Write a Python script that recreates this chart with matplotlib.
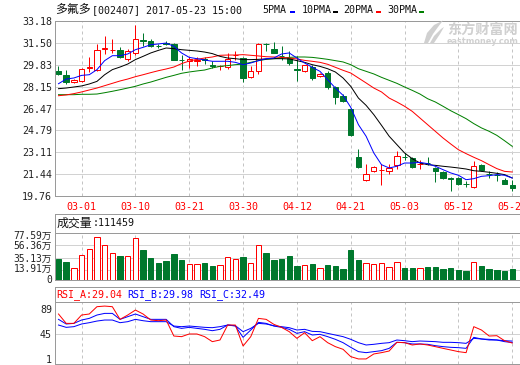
import numpy as np
import matplotlib.pyplot as plt
import matplotlib.transforms as mtransforms
from matplotlib.patches import Rectangle, Polygon

W, H = 520, 365

# 日期刻度
date_idx = [3, 10, 17, 24, 31, 38, 45, 52, 59]
date_labels = ['03-01', '03-10', '03-21', '03-30', '04-12', '04-21', '05-03', '05-12', '05-23']

# K线数据 (开, 高, 低, 收)
opens = [29.37, 29.01, 28.48, 28.55, 29.57, 29.45, 31.02, 30.93, 30.98, 30.24,
         30.70, 31.70, 31.65, 31.30, 31.48, 31.42, 30.19, 30.09, 30.14, 30.24,
         29.80, 29.70, 29.65, 30.58, 30.34, 28.86, 29.37, 31.45, 31.03, 30.50,
         30.34, 29.47, 29.37, 29.65, 28.94, 29.19, 28.12, 27.40, 26.46, 22.75,
         21.01, 21.65, 21.76, 21.70, 22.11, 22.75, 22.67, 22.22, 22.30, 21.91,
         21.60, 21.11, 21.14, 20.70, 20.43, 22.16, 21.48, 21.40, 21.01, 20.58]
highs = [29.70, 29.45, 28.71, 29.58, 30.39, 31.42, 32.00, 31.80, 31.19, 31.06,
         32.90, 32.26, 31.83, 31.42, 31.62, 31.49, 30.60, 30.39, 30.39, 30.39,
         30.09, 29.83, 30.73, 30.85, 30.39, 29.70, 31.49, 31.49, 31.57, 31.24,
         30.90, 30.47, 29.83, 29.83, 29.19, 29.32, 28.17, 27.58, 26.51, 23.36,
         22.22, 22.04, 22.24, 22.24, 23.24, 23.06, 22.73, 22.55, 22.73, 21.96,
         21.65, 21.19, 21.19, 20.94, 22.42, 22.24, 21.70, 21.60, 21.14, 21.01]
lows = [29.01, 28.37, 28.45, 28.50, 29.27, 29.32, 30.67, 30.75, 30.32, 30.14,
        30.60, 31.24, 31.16, 31.11, 31.31, 30.16, 29.45, 29.58, 29.76, 29.88,
        29.58, 29.45, 29.52, 30.22, 28.50, 28.81, 29.12, 30.85, 30.75, 30.22,
        29.83, 28.61, 29.27, 28.68, 28.91, 27.99, 26.84, 26.97, 24.36, 21.91,
        20.94, 21.60, 20.63, 21.45, 21.86, 22.55, 21.91, 21.83, 22.11, 20.81,
        21.04, 20.17, 20.58, 20.45, 20.37, 21.65, 21.14, 20.94, 20.68, 20.17]
closes = [29.14, 28.48, 28.66, 29.50, 29.65, 30.93, 31.08, 30.97, 30.39, 30.85,
          31.77, 31.67, 31.29, 31.26, 31.45, 30.22, 30.16, 30.27, 30.17, 30.22,
          29.76, 29.74, 30.29, 30.60, 28.81, 29.32, 31.42, 31.40, 30.75, 30.47,
          29.96, 29.45, 29.78, 28.81, 29.12, 28.09, 27.38, 27.07, 24.41, 21.96,
          21.47, 21.98, 21.78, 21.91, 22.83, 22.72, 22.01, 22.24, 22.27, 21.65,
          21.12, 21.09, 20.71, 20.68, 22.04, 21.73, 21.46, 21.38, 20.71, 20.35]

# 均线
ma5 = [28.37, 28.73, 28.81, 29.01, 29.06, 29.45, 30.14, 30.52, 30.52, 30.65,
       30.98, 31.16, 31.36, 31.42, 31.49, 31.24, 30.73, 30.39, 30.29, 30.19,
       30.09, 30.09, 30.09, 30.01, 29.83, 29.96, 30.14, 30.29, 30.34, 30.65,
       30.73, 30.34, 29.96, 29.63, 29.32, 28.68, 28.04, 27.48, 26.56, 25.23,
       24.34, 23.06, 22.16, 21.91, 22.04, 22.29, 22.29, 22.34, 22.24, 22.04,
       21.78, 21.53, 21.35, 21.01, 21.09, 21.27, 21.32, 21.40, 21.35, 21.14]
ma10 = [27.99, 28.04, 28.12, 28.20, 28.35, 28.55, 29.06, 29.45, 29.65, 29.88,
        30.22, 30.47, 30.73, 30.93, 31.11, 31.06, 30.98, 30.93, 30.88, 30.80,
        30.68, 30.47, 30.34, 30.29, 30.22, 30.22, 30.24, 30.27, 30.29, 30.29,
        30.27, 30.14, 30.01, 29.83, 29.70, 29.52, 29.27, 28.81, 28.17, 27.27,
        26.71, 26.00, 25.18, 24.34, 23.70, 23.06, 22.62, 22.29, 22.16, 22.11,
        22.04, 21.98, 21.91, 21.83, 21.70, 21.65, 21.58, 21.50, 21.40, 21.14]
ma20 = [27.45, 27.51, 27.61, 27.74, 27.89, 28.04, 28.22, 28.40, 28.58, 28.73,
        28.91, 29.06, 29.22, 29.37, 29.50, 29.65, 29.91, 30.11, 30.24, 30.34,
        30.42, 30.55, 30.57, 30.57, 30.60, 30.55, 30.50, 30.44, 30.42, 30.39,
        30.34, 30.27, 30.16, 30.09, 30.01, 29.86, 29.63, 29.40, 29.19, 28.81,
        28.43, 28.04, 27.74, 27.27, 26.97, 26.64, 26.25, 25.74, 25.23, 24.72,
        24.21, 23.75, 23.31, 23.01, 22.73, 22.47, 22.16, 21.86, 21.65, 21.60]
ma30 = [27.53, 27.53, 27.53, 27.56, 27.56, 27.58, 27.68, 27.79, 27.91, 28.04,
        28.17, 28.35, 28.50, 28.68, 28.86, 29.01, 29.17, 29.27, 29.35, 29.42,
        29.58, 29.70, 29.76, 29.83, 29.88, 30.01, 30.14, 30.24, 30.29, 30.34,
        30.39, 30.42, 30.42, 30.39, 30.32, 30.24, 30.14, 30.04, 29.83, 29.52,
        29.32, 29.12, 28.86, 28.63, 28.40, 28.12, 27.86, 27.58, 27.22, 26.97,
        26.64, 26.30, 26.00, 25.69, 25.31, 24.98, 24.72, 24.41, 24.00, 23.57]

# 成交量 (万)
volume = [32.5, 27.3, 16.3, 38.9, 49.4, 70.2, 56.3, 42.4, 37.8, 37.2,
          68.5, 48.2, 34.3, 25.6, 29.1, 41.2, 30.8, 23.3, 23.3, 25.6,
          20.9, 22.1, 35.4, 32.5, 36.6, 25.0, 56.3, 43.0, 30.8, 32.5,
          37.8, 20.9, 21.5, 23.8, 16.9, 22.1, 20.9, 15.1, 48.2, 30.8,
          25.0, 23.8, 25.0, 18.6, 26.7, 16.9, 16.9, 16.3, 18.6, 18.6,
          15.1, 16.9, 13.4, 11.7, 26.7, 20.4, 15.1, 13.4, 11.7, 15.1]

# RSI
rsi_a = [80.2, 63.7, 63.7, 78.4, 80.2, 93.1, 94.2, 93.1, 70.8, 78.4,
         87.2, 80.2, 69.6, 68.4, 69.6, 41.4, 40.3, 45.0, 45.0, 40.3,
         31.5, 34.4, 60.8, 60.8, 23.8, 40.3, 72.5, 70.8, 62.0, 56.7,
         49.1, 37.3, 47.3, 33.2, 40.3, 29.7, 22.7, 18.0, 5.1, 1.0,
         1.0, 9.8, 12.1, 15.0, 30.3, 29.7, 25.6, 27.4, 25.6, 22.7,
         19.7, 16.8, 13.9, 12.1, 57.9, 52.0, 41.4, 42.0, 33.2, 29.04]
rsi_b = [70.8, 62.6, 63.7, 69.6, 72.5, 78.4, 81.3, 81.3, 70.8, 75.5,
         80.2, 75.5, 70.8, 70.8, 70.8, 57.9, 54.9, 56.7, 54.9, 53.2,
         50.8, 53.2, 60.8, 59.0, 39.1, 52.0, 65.5, 63.7, 59.0, 56.7,
         53.2, 46.1, 49.1, 43.2, 44.4, 40.3, 35.6, 29.7, 21.5, 13.9,
         12.1, 13.9, 15.6, 19.7, 30.3, 29.7, 27.4, 27.4, 26.8, 24.4,
         22.7, 21.5, 20.9, 19.7, 39.1, 36.2, 34.4, 34.4, 31.5, 29.98]
rsi_c = [60.8, 56.7, 57.9, 62.6, 64.9, 67.8, 69.6, 69.6, 64.9, 66.7,
         70.8, 68.4, 66.7, 66.7, 66.7, 59.0, 57.9, 59.0, 57.9, 56.7,
         56.1, 57.9, 60.8, 59.6, 49.1, 54.9, 63.7, 62.6, 59.6, 57.9,
         56.1, 52.0, 53.2, 49.6, 49.1, 46.1, 43.2, 40.3, 35.6, 29.7,
         25.6, 26.8, 28.5, 29.7, 34.4, 33.2, 31.5, 32.6, 32.1, 31.5,
         30.3, 30.3, 29.7, 28.5, 37.3, 36.2, 35.6, 34.4, 33.2, 32.49]

price_ticks = [19.76, 21.44, 23.11, 24.79, 26.47, 28.15, 29.83, 31.50, 33.18]
vol_ticks = [0, 13.91, 35.13, 56.36, 77.59]
rsi_ticks = [1, 45, 89]

UP = '#ff0000'
DOWN = '#00782d'
FRAME = '#9a9a9a'
GRID = '#d2d2d2'
MONO = 'DejaVu Sans Mono'
CJK = 'Noto Sans CJK SC'
FS = 7.2
LW = 0.72
XL = (-0.455, 60.66)


def box(x0, y0, x1, y1):
    return [x0 / W, 1 - y1 / H, (x1 - x0) / W, (y1 - y0) / H]


def ftext(x, y, s, **kw):
    kw.setdefault('va', 'center')
    return fig.text(x / W, 1 - y / H, s, **kw)


def frame(ax, show_x=True):
    ax.set_xlim(XL)
    for s in ax.spines.values():
        s.set_color(FRAME)
        s.set_linewidth(LW)
    ax.spines['right'].set_visible(False)
    ax.tick_params(length=0, pad=2.2, labelsize=FS, labelcolor='#222222')
    ax.set_xticks(date_idx)
    if not show_x:
        ax.set_xticklabels([])
    ax.xaxis.grid(True, color='#c4c4c4', linestyle=(0, (3, 3)), linewidth=LW)
    ax.set_axisbelow(True)
    for lab in ax.get_yticklabels():
        lab.set_family([MONO, CJK])


fig = plt.figure(figsize=(W / 100, H / 100), dpi=100)

ax_k = fig.add_axes(box(55, 21, 525, 196))
ax_vh = fig.add_axes(box(55, 214.3, 525, 232.5))
ax_v = fig.add_axes(box(55, 232.5, 525, 280.3))
ax_rh = fig.add_axes(box(55, 287.3, 525, 301.7))
ax_r = fig.add_axes(box(55, 301.7, 525, 364))

x = np.arange(len(closes))
bw = 0.7

# ---- K线 ----
for i in x:
    o, h, l, c = opens[i], highs[i], lows[i], closes[i]
    col = UP if c >= o else DOWN
    ax_k.vlines(i, l, h, color=col, linewidth=LW, zorder=2)
    face = 'white' if c >= o else DOWN
    ax_k.add_patch(Rectangle((i - bw / 2, min(o, c)), bw, abs(c - o),
                             facecolor=face, edgecolor=col, linewidth=LW, zorder=2.5))

for vals, col in [(ma30, '#008000'), (ma20, '#ff0000'), (ma10, '#000000'), (ma5, '#0000ff')]:
    ax_k.plot(x, vals, color=col, linewidth=LW, zorder=3)

ax_k.set_ylim(price_ticks[0], price_ticks[-1])
ax_k.set_yticks(price_ticks)
ax_k.set_yticklabels(['%.2f' % p for p in price_ticks])
ax_k.yaxis.grid(True, color=GRID, linewidth=LW)
frame(ax_k)
ax_k.set_xticklabels(date_labels, color=UP, family=MONO, fontsize=FS)
ax_k.tick_params(axis='x', pad=4.5)
for lab in ax_k.get_yticklabels():
    lab.set_fontsize(FS)

# ---- 成交量 ----
vol_floor = -4.5
for i in x:
    up = closes[i] >= opens[i]
    ax_v.bar(i, volume[i] - vol_floor, bottom=vol_floor, width=bw,
             facecolor='white' if up else DOWN, edgecolor=UP if up else DOWN,
             linewidth=LW, zorder=2)
ax_v.set_ylim(vol_floor, 78.6)
ax_v.set_yticks(vol_ticks)
ax_v.set_yticklabels(['0'] + ['%.2f万' % v for v in vol_ticks[1:]])
for v in vol_ticks[1:]:
    ax_v.axhline(v, color=GRID, linewidth=LW, zorder=0.5)
frame(ax_v, show_x=False)
# 让 0 与 13.91万 两个标签稍微分开
vlabs = ax_v.get_yticklabels()
for lab, dy in zip(vlabs, [-1.5, 1.5, 0, 0, -1.5]):
    lab.set_fontsize(6.9)
    lab.set_transform(lab.get_transform() +
                      mtransforms.ScaledTranslation(0, dy / 100, fig.dpi_scale_trans))

# ---- RSI ----
ax_r.plot(x, rsi_c, color='#0000ff', linewidth=LW, zorder=2)
ax_r.plot(x, rsi_b, color='#0000ff', linewidth=LW, zorder=2)
ax_r.plot(x, rsi_a, color='#ff0000', linewidth=LW, zorder=3)
ax_r.set_ylim(-7.9, 101.9)
ax_r.set_yticks(rsi_ticks)
ax_r.set_yticklabels([str(v) for v in rsi_ticks])
ax_r.axhline(45, color=GRID, linewidth=LW, zorder=0.5)
frame(ax_r, show_x=False)

# ---- 标题栏 ----
for hx in (ax_vh, ax_rh):
    hx.set_xlim(XL)
    hx.set_xticks([])
    hx.set_yticks([])
    for s in hx.spines.values():
        s.set_color(FRAME)
        s.set_linewidth(LW)
    hx.spines['right'].set_visible(False)

ftext(55.5, 10, '多氟多', family=CJK, fontsize=8.6, color='#111111')
ftext(92.5, 10, '[002407] 2017-05-23 15:00', family=MONO, fontsize=FS, color='#111111')

legend_items = [(262, '5PMA', 289.5, '#0000ff'), (302, '10PMA', 332.5, '#000000'),
                (343, '20PMA', 375.5, '#ff0000'), (387, '30PMA', 418.5, '#008000')]
for tx, name, dx, col in legend_items:
    ftext(tx, 10, name, family=MONO, fontsize=FS, color='#111111')
    fig.patches.append(Rectangle((dx / W, 1 - 13 / H), 5.5 / W, 2 / H,
                                 transform=fig.transFigure, facecolor=col,
                                 edgecolor='none'))

ftext(56.5, 223.3, '成交量', family=CJK, fontsize=8.6, color='#111111')
ftext(92.5, 223.3, ':111459', family=MONO, fontsize=FS, color='#111111')

ftext(56, 294.3, 'RSI_A:29.04', family=MONO, fontsize=FS, color='#ff0000')
ftext(127.5, 294.3, 'RSI_B:29.98', family=MONO, fontsize=FS, color='#0000ff')
ftext(199.5, 294.3, 'RSI_C:32.49', family=MONO, fontsize=FS, color='#0000ff')

# ---- 水印 ----
WM = '#d0d0d0'
logo = [(424, 43), (427, 33), (434, 25), (443, 20.5), (438, 27), (433, 34), (428, 43)]
fig.patches.append(Polygon([(px / W, 1 - py / H) for px, py in logo], closed=True,
                           transform=fig.transFigure, facecolor=WM, edgecolor='none'))
logo2 = [(430, 43), (434, 36), (441, 29), (444, 27), (440, 34), (434, 43)]
fig.patches.append(Polygon([(px / W, 1 - py / H) for px, py in logo2], closed=True,
                           transform=fig.transFigure, facecolor=WM, edgecolor='none'))
ftext(447, 29.5, '东方财富网', family=CJK, fontsize=10.2, fontweight='bold', color=WM)
ftext(447, 41.5, 'eastmoney.com', family='DejaVu Sans', fontsize=5.9,
      fontweight='bold', color=WM)

fig.savefig('out.png', dpi=100)
